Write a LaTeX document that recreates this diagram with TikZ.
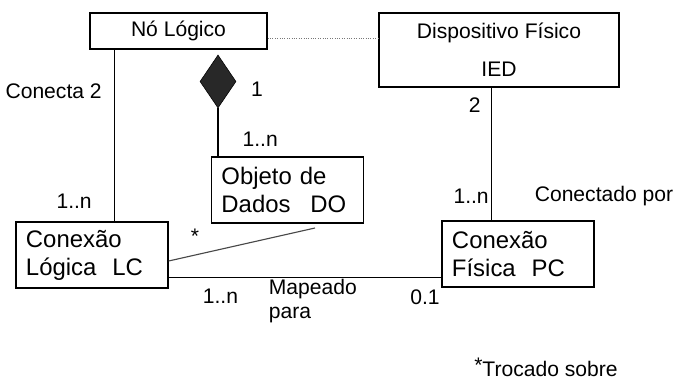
\documentclass[tikz,border=0pt]{standalone}
\usepackage{fontspec}
\setmainfont{Liberation Sans}
\usepackage{xcolor}
\usetikzlibrary{positioning, shapes.geometric}
\definecolor{inkgray}{RGB}{40,40,40}
\definecolor{fadegray}{RGB}{120,120,120}

\begin{document}
\begin{tikzpicture}[x=0.025cm, y=-0.025cm,
  lbl/.style={font=\fontsize{15}{17}\selectfont, inner sep=0pt},
  box/.style={draw, line width=0.9pt, inner sep=0pt, align=center,
              font=\fontsize{15}{17}\selectfont},
  cbox/.style={draw, line width=0.9pt, inner xsep=0.25cm, inner ysep=0pt,
               text width=3.3cm, minimum height=1.65cm, align=left,
               font=\fontsize{17}{20}\selectfont},
  agg/.style={diamond, draw, fill=inkgray, inner sep=0pt,
              minimum width=0.9cm, minimum height=1.325cm},
  link/.style={line width=0.9pt},
  faint/.style={fadegray, line width=0.7pt, densely dotted}]

  \useasboundingbox (0,0) rectangle (676,379);

  %% classes
  \node[box, minimum width=4.425cm, minimum height=0.9cm] (nolog) at (178.5,31) {Nó Lógico};
  \node[box, minimum width=6cm, minimum height=1.85cm] (dev) at (499,50) {Dispositivo Físico\\[10pt]IED};
  \node[cbox] (do) at (287.5,190) {Objeto de\\Dados\enspace\ DO};
  \node[cbox] (lc) at (92,255) {Conexão\\Lógica~ LC};
  \node[cbox] (pc) at (518,254) {Conexão\\Física~ PC};

  %% composition
  \node[agg] (dia) at (218,81.5) {};
  \node[lbl] (one) at (257,89) {1};

  %% helper points
  \path (lc.north west) ++(99,0) coordinate (lctop);
  \path (pc.north west) ++(50,0) coordinate (pctop);
  \path (lc.south east) ++(0,-11) coordinate (lcmap);
  \path (lc.east) ++(0,6) coordinate (lcswap);
  \path (nolog.east) ++(0,7) coordinate (nlink);
  \coordinate (dofree) at (315,228);

  %% links
  \draw[faint] (nlink) -- (nlink -| dev.west);
  \draw[link] (lctop) -- node[lbl, pos=0.12, left=0.55cm]{1..n}
                         node[lbl, pos=0.76, left=0.3cm]{Conecta 2} (lctop |- nolog.south);
  \draw[link] (dia.south) -- node[lbl, pos=0.65, right=0.6cm]{1..n} (dia.south |- do.north);
  \draw[link] (pctop |- dev.south) -- node[lbl, pos=0.13, left=0.25cm]{2}
                                      node[lbl, pos=0.82, left=0.05cm]{1..n}
                                      node[lbl, pos=0.82, right=1.07cm]{Conectado por} (pctop);
  \draw[link] (lcmap) -- node[lbl, pos=0.19, below=0.28cm]{1..n}
                         node[lbl, pos=0.365, anchor=north west, align=left, yshift=-0.03cm]{Mapeado\\para}
                         node[lbl, pos=0.94, below=0.28cm]{0.1} (lcmap -| pc.west);
  \draw[link, fadegray!60!black, line width=0.8pt] (lcswap) -- (dofree);
  \node[lbl] (star) at (195,236) {*};

  %% footnote
  \node[lbl, anchor=west] (note) at (474,367) {\raisebox{3pt}{*}Trocado sobre};
\end{tikzpicture}
\end{document}
